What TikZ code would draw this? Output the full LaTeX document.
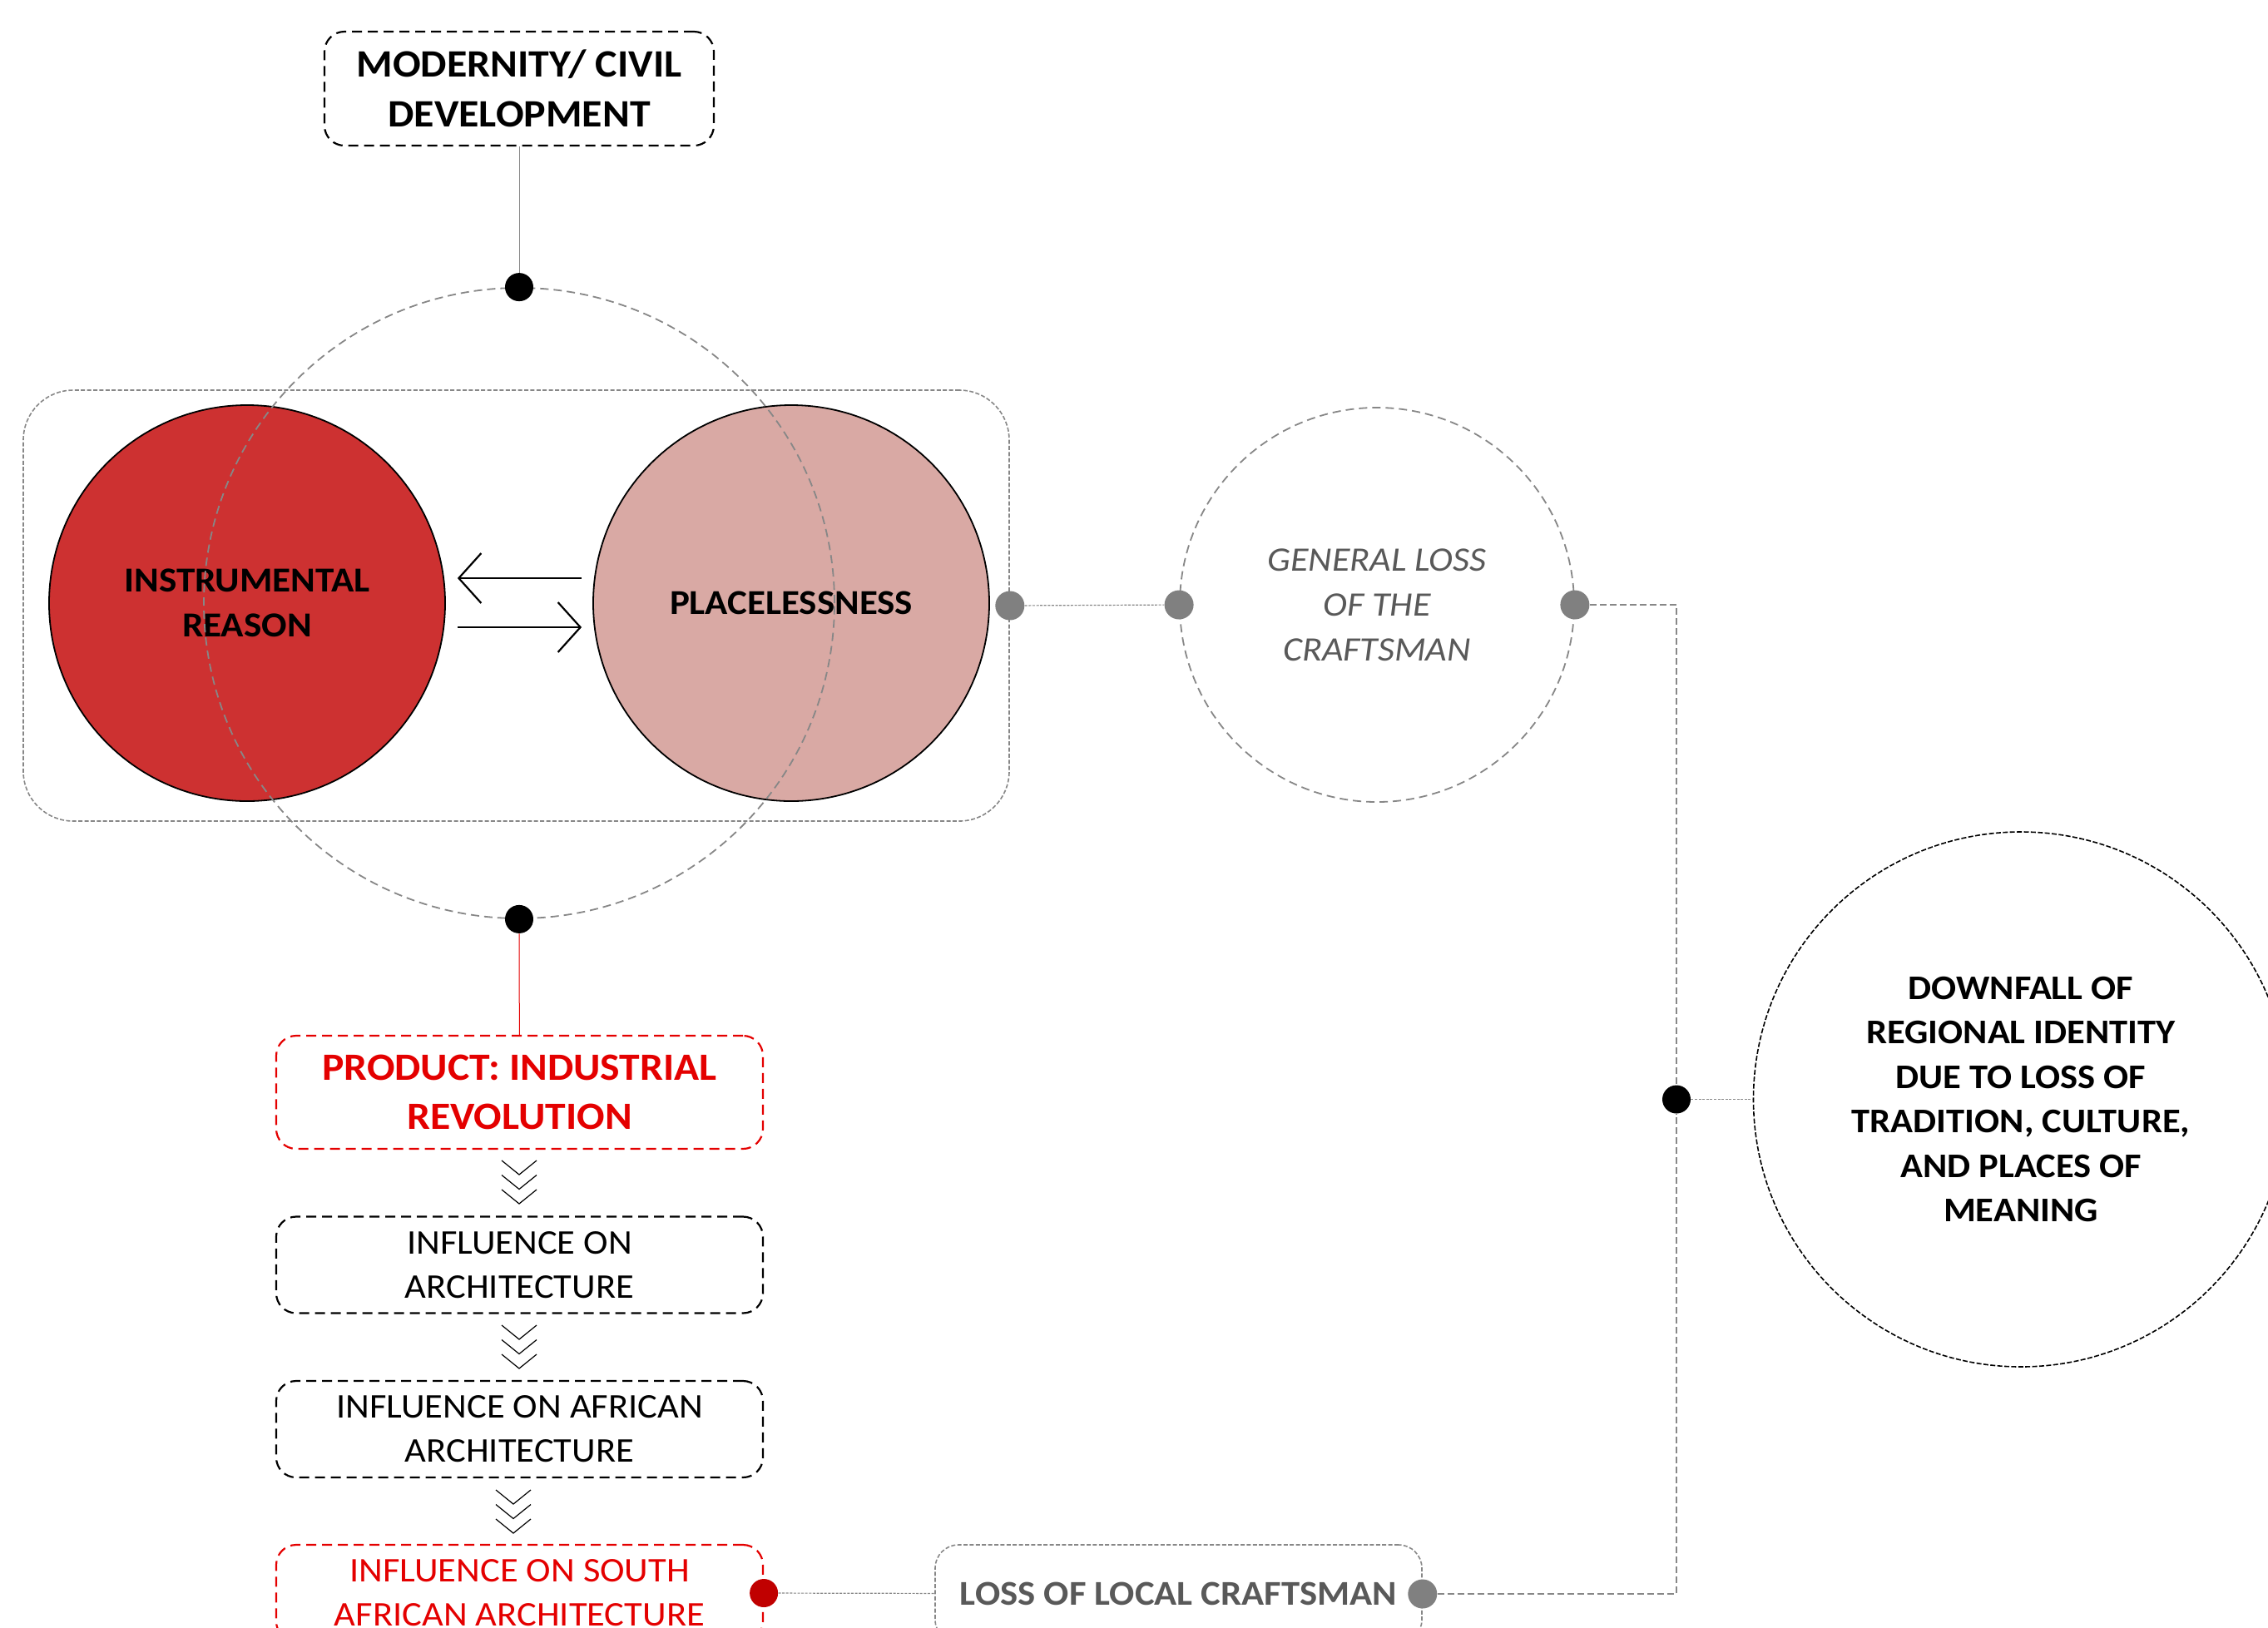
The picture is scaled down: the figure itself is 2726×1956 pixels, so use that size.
\documentclass[tikz,border=0pt]{standalone}
\usepackage{fontspec}
\setmainfont{Carlito}[FakeStretch=1.07]
\usetikzlibrary{arrows.meta,calc}
\definecolor{redfill}{RGB}{205,49,49}
\definecolor{pinkfill}{RGB}{217,169,164}
\definecolor{dotgrey}{RGB}{128,128,128}
\definecolor{txtgrey}{RGB}{89,89,89}
\definecolor{lingrey}{RGB}{135,135,135}
\definecolor{brightred}{RGB}{228,0,0}
\definecolor{dotred}{RGB}{192,0,0}
\tikzset{
  box/.style={draw, rounded corners=12pt, dash pattern=on 6pt off 3.5pt, line width=1.1pt,
    minimum width=292.5pt, minimum height=58pt, align=center, inner sep=0pt},
  redbox/.style={box, draw=brightred, text=brightred},
  bigcirc/.style={circle, draw=black, line width=0.9pt, minimum size=238pt, align=center, inner sep=0pt},
  greyring/.style={circle, draw=lingrey, line width=0.9pt, dash pattern=on 5pt off 3pt, inner sep=0pt},
  blackdot/.style={circle, fill=black, minimum size=17pt, inner sep=0pt},
  greydot/.style={circle, fill=dotgrey, minimum size=17.5pt, inner sep=0pt},
  reddot/.style={circle, fill=dotred, minimum size=17pt, inner sep=0pt},
  thinline/.style={draw=lingrey, line width=0.5pt},
  dotline/.style={draw=lingrey, line width=0.6pt, dash pattern=on 1.5pt off 0.8pt},
  dashline/.style={draw=lingrey, line width=0.7pt, dash pattern=on 4pt off 2pt},
  arr/.style={line width=1.4pt, -{Straight Barb[length=13.5pt, width=30pt, line width=1.1pt]}},
  chev/.pic={\foreach \k in {0,1,2}{\draw[line width=0.6pt] (-21,\k*17.5) -- (0,\k*17.5+17) -- (21,\k*17.5);}}
}
\begin{document}
\begin{tikzpicture}[x=0.5pt,y=-0.5pt]
\useasboundingbox (0,0) rectangle (2726,1956);

% colored circles
\node[bigcirc, fill=redfill, font=\fontsize{21.1}{27}\selectfont\bfseries] (instr) at (297,725) {INSTRUMENTAL\\REASON};
\node[bigcirc, fill=pinkfill, font=\fontsize{21}{27}\selectfont\bfseries] (place) at (951,725) {PLACELESSNESS};

% group rectangle and ring
\node[draw=lingrey, rounded corners=30pt, line width=0.8pt, dash pattern=on 2.5pt off 1.2pt,
      minimum width=592.5pt, minimum height=259pt, inner sep=0pt] (grp) at (620.5,728) {};
\node[greyring, minimum size=379pt] (ring) at (624,725) {};

% arrows
\draw[arr] ($(place.west)+(-13,-30)$) -- ($(instr.east)+(14,-30)$);
\draw[arr] ($(instr.east)+(14,29)$) -- ($(place.west)+(-13,29)$);

% top box
\node[box, minimum width=234pt, minimum height=68.5pt, font=\fontsize{23.3}{30}\selectfont\bfseries] (modern) at (624,106.5) {MODERNITY/ CIVIL\\DEVELOPMENT};

% dots on ring
\node[blackdot] (topdot) at (ring.north) {};
\node[blackdot] (botdot) at (ring.south) {};

% general loss circle
\node[greyring, minimum size=237pt, text=txtgrey, align=center, font=\fontsize{20.6}{27}\selectfont\itshape] (gen) at (1655,727) {GENERAL LOSS\\OF THE\\CRAFTSMAN};
\node[greydot] (pdot) at (grp.east) {};
\node[greydot] (gdotL) at (gen.west) {};
\node[greydot] (gdotR) at (gen.east) {};

% downfall circle
\node[circle, draw=black, line width=0.8pt, dash pattern=on 3pt off 1.2pt, minimum size=321.5pt, inner sep=0pt, align=center,
      font=\fontsize{20.8}{26.7}\selectfont\bfseries] (down) at (2429,1321.5)
  {DOWNFALL OF\\REGIONAL IDENTITY\\DUE TO LOSS OF\\TRADITION, CULTURE,\\AND PLACES OF\\MEANING};
\node[blackdot] (rdot) at (2015,1321.5) {};

% vertical chain
\node[redbox, minimum height=68pt, font=\fontsize{23.2}{29.5}\selectfont\bfseries] (prod) at (624.5,1313) {PRODUCT: INDUSTRIAL\\REVOLUTION};
\node[box, font=\fontsize{20.8}{26.5}\selectfont] (infl1) at (624.5,1520.5) {INFLUENCE ON\\ARCHITECTURE};
\node[box, font=\fontsize{20.8}{26.5}\selectfont] (infl2) at (624.5,1718) {INFLUENCE ON AFRICAN\\ARCHITECTURE};
\node[redbox, font=\fontsize{20.8}{26.5}\selectfont] (south) at (624.5,1915) {INFLUENCE ON SOUTH\\AFRICAN ARCHITECTURE};
\node[reddot] (rdot2) at (south.east) {};

\pic at (624,1395) {chev};
\pic at (624,1593) {chev};
\pic at (617,1791) {chev};

% loss of local craftsman
\node[draw=lingrey, rounded corners=14pt, line width=0.8pt, dash pattern=on 2.5pt off 1.2pt,
      minimum width=292.5pt, minimum height=59pt, inner sep=0pt, text=txtgrey,
      font=\fontsize{20.9}{27}\selectfont\bfseries] (loss) at (1416.5,1916) {LOSS OF LOCAL CRAFTSMAN};
\node[greydot] (lossdot) at (loss.east) {};

% connectors
\draw[thinline] (modern) -- (topdot);
\draw[draw=brightred, line width=0.5pt] (botdot) -- (prod);
\draw[dotline] (pdot) -- (gdotL);
\draw[dashline] (gdotR) -| (rdot);
\draw[dashline] (lossdot) -| (rdot);
\draw[dotline] (rdot) -- (down);
\draw[dotline] (rdot2) -- (loss);
\end{tikzpicture}
\end{document}
